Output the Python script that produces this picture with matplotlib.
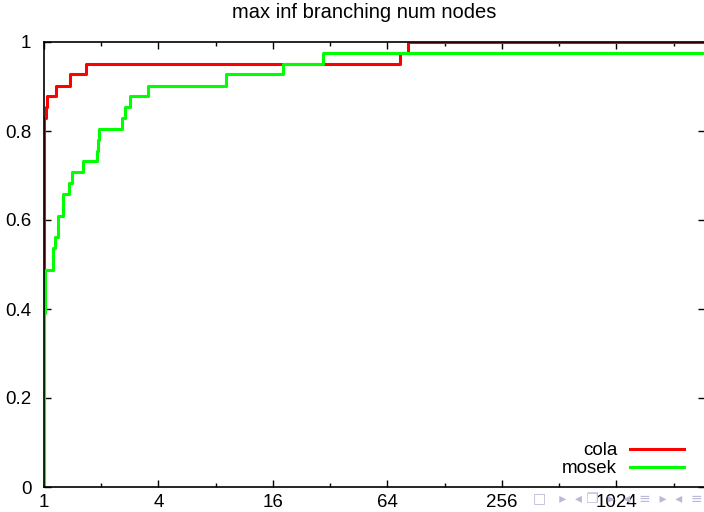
import matplotlib
matplotlib.use("Agg")
import matplotlib.pyplot as plt
from matplotlib.ticker import FixedLocator, NullFormatter

# performance profile data (ratio, fraction of problems)
cola_x = [1, 1, 1.025, 1.04, 1.15, 1.37, 1.66, 74.7, 82, 4000]
cola_y = [0, 0.829, 0.854, 0.878, 0.902, 0.927, 0.951, 0.976, 1.0, 1.0]

mosek_x = [1, 1, 1.012, 1.111, 1.143, 1.18, 1.254, 1.359, 1.399, 1.61, 1.894,
           1.917, 1.955, 2.563, 2.668, 2.835, 3.54, 9.04, 18.17, 29.3, 4000]
mosek_y = [0, 0.390, 0.488, 0.537, 0.561, 0.610, 0.659, 0.683, 0.707, 0.732, 0.756,
           0.780, 0.805, 0.829, 0.854, 0.878, 0.902, 0.927, 0.951, 0.976, 0.976]

xticks = [1, 4, 16, 64, 256, 1024]
xminor = [2, 8, 32, 128, 512, 2048]
yticks = [0, 0.2, 0.4, 0.6, 0.8, 1]
ylabels = ["0", "0.2", "0.4", "0.6", "0.8", "1"]

plt.rcParams['font.family'] = ['Liberation Sans', 'DejaVu Sans']

fig = plt.figure(figsize=(7.04, 5.12), dpi=100)
ax = fig.add_axes([44/704, 25/512, 661/704, 445/512])

ax.step(cola_x, cola_y, where='post', color='#ff0000', lw=2.2, label='cola')
ax.step(mosek_x, mosek_y, where='post', color='#00ff00', lw=2.2, label='mosek')

ax.set_xscale('log', base=2)
ax.set_xlim(1, 2 ** (660.5 / 57.2))
ax.set_ylim(0, 1)
ax.xaxis.set_major_locator(FixedLocator(xticks))
ax.xaxis.set_minor_locator(FixedLocator(xminor))
ax.xaxis.set_minor_formatter(NullFormatter())
ax.set_xticklabels([str(t) for t in xticks])
ax.set_yticks(yticks)
ax.set_yticklabels(ylabels)
ax.yaxis.set_minor_locator(FixedLocator([]))

ax.tick_params(which='major', direction='in', length=5, width=1,
               top=True, right=True, labelsize=13.5)
ax.tick_params(axis='x', pad=5)
ax.tick_params(axis='y', pad=9)
ax.tick_params(which='minor', direction='in', length=3, width=1,
               top=True, right=True)
for s in ax.spines.values():
    s.set_linewidth(1.2)

ax.set_title('max inf branching num nodes', fontsize=14.5, pad=17, x=0.485)

ax.legend(loc='lower right', frameon=False, markerfirst=False, fontsize=13.5,
          handlelength=2.85, labelspacing=0.05, handletextpad=0.7,
          borderpad=0, borderaxespad=0, bbox_to_anchor=(0.968, 0.022))

# beamer navigation symbols
fig.text(0.998, 0.012, "\u25a1   \u25b8  \u25c2 \u2750  \u25b8  \u25c2  \u2261  \u25b8  \u25c2  \u2261",
         ha='right', va='bottom', fontsize=10, color='#b8b8d8',
         family=['DejaVu Sans'])

fig.savefig('out.png', dpi=100)
